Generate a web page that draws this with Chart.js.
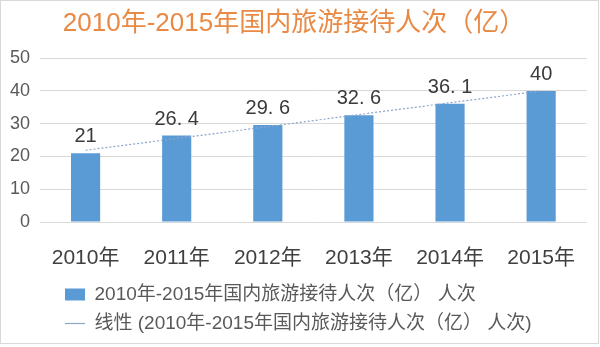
<!DOCTYPE html>
<html>
<head>
<meta charset="utf-8">
<script src="https://cdn.jsdelivr.net/npm/chart.js@4/dist/chart.umd.min.js"></script>
<style>
    html, body { margin: 0; padding: 0; background: #fff; }
</style>
</head>
<body>
<canvas id="graficoTurismo" width="600" height="347"></canvas>
<script>
// Dados: visitas do turismo doméstico (亿人次)
const anos = ["2010年", "2011年", "2012年", "2013年", "2014年", "2015年"];
const visitas = [21, 26.4, 29.6, 32.6, 36.1, 40];
const tendencia = [21.9, 25.5, 29.1, 32.8, 36.4, 40.0];
const ticksY = [0, 10, 20, 30, 40, 50];

const titulo = "2010年-2015年国内旅游接待人次（亿）";
const nomeSerie = "2010年-2015年国内旅游接待人次（亿） 人次";
const nomeTendencia = "线性 (" + nomeSerie + ")";

const fonte = "'Liberation Sans', 'Noto Sans CJK SC', sans-serif";

// Valores em cima de cada barra
const rotulosValores = {
    id: "rotulosValores",
    afterDatasetsDraw(chart) {
        const ctx = chart.ctx;
        const meta = chart.getDatasetMeta(0);
        ctx.save();
        ctx.font = "20px " + fonte;
        ctx.fillStyle = "#3a3a3a";
        ctx.textAlign = "center";
        ctx.textBaseline = "alphabetic";
        meta.data.forEach((barra, i) => {
            const texto = String(visitas[i]).replace(".", ". ");
            ctx.fillText(texto, barra.x, barra.y - 11);
        });
        ctx.restore();
    }
};

// Legenda alinhada à esquerda, um pouco para dentro
const deslocarLegenda = {
    id: "deslocarLegenda",
    beforeDraw(chart) {
        chart.legend.left = 55;
    }
};

// Moldura cinza clara em volta do gráfico
const moldura = {
    id: "moldura",
    afterDraw(chart) {
        const ctx = chart.ctx;
        ctx.save();
        ctx.strokeStyle = "#d9d9d9";
        ctx.lineWidth = 1;
        ctx.strokeRect(0.5, 0.5, 598, 343);
        ctx.restore();
    }
};

new Chart(document.getElementById("graficoTurismo"), {
    type: "bar",
    data: {
        labels: anos,
        datasets: [{
            label: nomeSerie,
            data: visitas,
            backgroundColor: "#5b9bd5",
            borderWidth: 0,
            pointStyle: "rect",
            categoryPercentage: 1,
            barPercentage: 0.32,
            order: 2
        }, {
            type: "line",
            label: nomeTendencia,
            data: tendencia,
            borderColor: "#8aa6c8",
            backgroundColor: "#8aa6c8",
            borderWidth: 1.2,
            borderDash: [2, 2],
            pointRadius: 0,
            pointStyle: "line",
            fill: false,
            order: 1
        }]
    },
    options: {
        responsive: false,
        animation: false,
        layout: { padding: { left: 0, right: 12, top: 0, bottom: 4 } },
        plugins: {
            title: {
                display: true,
                text: titulo,
                color: "#e88a45",
                font: { family: fonte, size: 26, weight: "normal" },
                padding: { top: 8, bottom: 19 }
            },
            legend: {
                position: "bottom",
                align: "start",
                labels: {
                    usePointStyle: true,
                    pointStyleWidth: 20,
                    boxHeight: 12,
                    padding: 10,
                    color: "#595959",
                    font: { family: fonte, size: 19 },
                    sort: (a, b) => a.datasetIndex - b.datasetIndex
                }
            },
            tooltip: { enabled: false }
        },
        scales: {
            x: {
                grid: { display: false, drawTicks: false },
                border: { display: false },
                ticks: {
                    color: "#404040",
                    padding: 24,
                    font: { family: fonte, size: 21 }
                },
                afterFit: escala => { escala.height = 53; }
            },
            y: {
                min: ticksY[0],
                max: ticksY[ticksY.length - 1],
                grid: { color: "#d9d9d9", drawTicks: false },
                border: { display: false },
                ticks: {
                    stepSize: ticksY[1] - ticksY[0],
                    color: "#595959",
                    padding: 10,
                    font: { family: fonte, size: 18 }
                }
            }
        }
    },
    plugins: [rotulosValores, deslocarLegenda, moldura]
});
</script>
</body>
</html>
